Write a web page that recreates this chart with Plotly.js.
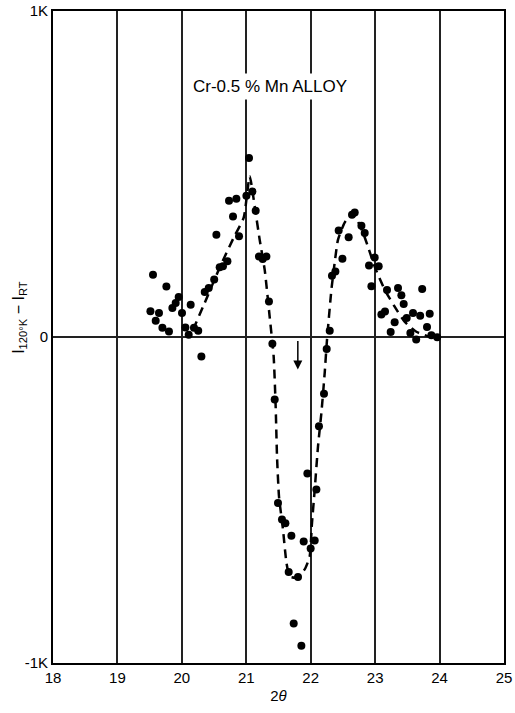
<!DOCTYPE html>
<html>
<head>
<meta charset="utf-8">
<script src="https://cdn.plot.ly/plotly-3.0.1.min.js"></script>
<style>html,body{margin:0;padding:0;background:#fff;}#chart{width:515px;height:713px;}</style>
</head>
<body>
<div id="chart"></div>
<script>
// Measured points: 2θ (deg) and I(120°K) - I(RT) (counts, 1K = 1000)
const pointX = [19.552,19.760,19.951,19.904,19.853,19.512,19.645,19.594,19.698,19.800,
  20.002,20.137,20.055,20.106,20.188,20.254,20.303,20.355,20.417,20.502,
  20.587,20.638,20.707,20.536,20.794,20.732,20.846,20.887,21.002,21.042,
  21.095,21.146,21.197,21.255,21.312,21.352,21.405,21.441,21.492,21.554,
  21.607,21.700,21.658,21.803,21.736,21.855,21.891,21.999,22.062,21.948,
  22.088,22.128,22.206,22.248,22.295,22.330,22.383,22.492,22.434,22.589,
  22.641,22.683,22.787,22.838,22.905,22.993,23.055,22.942,23.184,23.355,
  23.730,23.407,23.443,23.153,23.097,23.303,23.490,23.588,23.699,23.847,
  23.805,23.241,23.547,23.637,23.873,23.963];
const pointY = [191,155,123,104,89,79,74,50,28,17,
  74,99,29,7,28,19,-60,138,150,176,
  214,217,232,314,370,418,424,309,433,549,
  446,387,247,239,247,109,-21,-192,-509,-560,
  -571,-610,-721,-736,-879,-947,-627,-649,-624,-419,
  -468,-274,-174,-37,19,188,201,240,327,306,
  375,382,341,319,219,244,217,156,144,150,
  147,128,101,78,69,45,58,74,65,71,
  31,15,12,-8,5,-1];

// Dashed guide curve
const curveX = [20.173,20.355,20.587,20.805,20.960,21.053,21.131,21.208,21.286,21.363,
  21.425,21.456,21.477,21.508,21.570,21.623,21.674,21.782,21.906,21.983,
  22.020,22.062,22.113,22.166,22.217,22.253,22.321,22.372,22.423,22.527,
  22.656,22.811,22.889,22.993,23.148,23.303,23.458,23.640,23.846,23.960];
const curveY = [22,105,213,305,366,493,400,298,206,62,
  -60,-214,-367,-490,-591,-692,-735,-738,-713,-674,
  -570,-468,-336,-232,-110,-8,145,228,298,351,
  380,320,277,216,145,93,47,16,1,-1];

const xTicks = [18,19,20,21,22,23,24,25];
const yTickVals = [-1000,0,1000];
const yTickText = ['-1K','0','1K'];
const chartTitle = 'Cr-0.5 % Mn ALLOY';
const arrowX = 21.80, arrowTop = -8, arrowTip = -100;

const font = {family: 'Liberation Sans, Arial, sans-serif', color: '#000', size: 15};

const traces = [
  {x: curveX, y: curveY, mode: 'lines', type: 'scatter',
   line: {color: '#000', width: 2.5, dash: '9px,6px', shape: 'spline', smoothing: 0.5},
   hoverinfo: 'skip', showlegend: false},
  {x: pointX, y: pointY, mode: 'markers', type: 'scatter',
   marker: {color: '#000', size: 8}, showlegend: false}
];

const layout = {
  width: 515, height: 713,
  margin: {l: 53, r: 11, t: 11, b: 50},
  paper_bgcolor: '#fff', plot_bgcolor: '#fff',
  font: font,
  xaxis: {range: [18, 25], tickvals: xTicks, ticktext: xTicks.map(String),
    showgrid: true, gridcolor: '#222', gridwidth: 2,
    showline: true, linecolor: '#000', linewidth: 2, mirror: true,
    zeroline: false, ticks: '', tickfont: font,
    title: {text: '2<i>θ</i>', font: font, standoff: 5}},
  yaxis: {range: [-1000, 1000], tickvals: yTickVals, ticktext: yTickText,
    showgrid: false, zeroline: true, zerolinecolor: '#222', zerolinewidth: 2,
    showline: true, linecolor: '#000', linewidth: 2, mirror: true,
    ticks: '', tickfont: font},
  annotations: [
    {x: 21.37, y: 768, xref: 'x', yref: 'y', text: chartTitle, showarrow: false,
     font: {family: 'Liberation Sans, Arial, sans-serif', size: 17, color: '#000'},
     bgcolor: '#fff', borderpad: 3},
    {x: arrowX, y: arrowTip, ax: arrowX, ay: arrowTop, xref: 'x', yref: 'y', axref: 'x', ayref: 'y',
     text: '', showarrow: true, arrowhead: 2, arrowsize: 1.2, arrowwidth: 1.5, arrowcolor: '#000'},
    {x: -0.1, y: 0.53, xref: 'paper', yref: 'paper', textangle: -90, showarrow: false,
     text: 'I<sub>120°K</sub> − I<sub>RT</sub>', font: {family: 'Liberation Sans, Arial, sans-serif', size: 16, color: '#000'}}
  ]
};

Plotly.newPlot('chart', traces, layout, {displayModeBar: false, staticPlot: true});
</script>
</body>
</html>
